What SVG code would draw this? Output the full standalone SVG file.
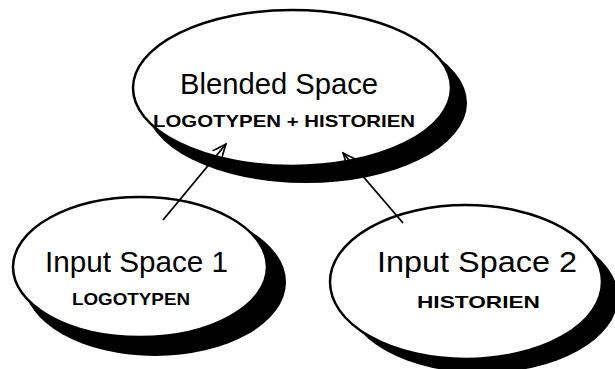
<svg xmlns="http://www.w3.org/2000/svg" width="615" height="369" viewBox="0 0 615 369">
<defs>
<style>
.shadow{fill:#000}
.body{fill:#fff;stroke:#000;stroke-width:2.5}
.title{font-family:"Liberation Sans","DejaVu Sans",sans-serif;font-size:29px;fill:#000}
.sub{font-family:"Liberation Sans","DejaVu Sans",sans-serif;font-size:17px;fill:#000;font-weight:bold}
.conn{stroke:#000;stroke-width:1.8;fill:none}
</style>
<marker id="arr" markerWidth="16" markerHeight="16" refX="14" refY="8" orient="auto" markerUnits="userSpaceOnUse">
<path d="M0,2 L14,8 L0,14 M3,3.5 L14,8 M3,12.5 L14,8" fill="none" stroke="#000" stroke-width="1.5"/>
</marker>
</defs>
<rect width="615" height="369" fill="#fff"/>
<g id="blended">
<ellipse class="shadow" cx="306" cy="103" rx="161" ry="80"/>
<ellipse class="body" cx="292" cy="88" rx="159" ry="78"/>
<text class="title" x="180" y="94" textLength="198" lengthAdjust="spacingAndGlyphs">Blended Space</text>
<text class="sub" x="153" y="127" textLength="262" lengthAdjust="spacingAndGlyphs">LOGOTYPEN + HISTORIEN</text>
</g>
<g id="input1">
<ellipse class="shadow" cx="155" cy="282" rx="131" ry="74"/>
<ellipse class="body" cx="140" cy="267" rx="127" ry="70"/>
<text class="title" x="45" y="272" textLength="183" lengthAdjust="spacingAndGlyphs">Input Space 1</text>
<text class="sub" x="72" y="305" textLength="118" lengthAdjust="spacingAndGlyphs">LOGOTYPEN</text>
</g>
<g id="input2">
<ellipse class="shadow" cx="482" cy="297" rx="136" ry="76"/>
<ellipse class="body" cx="466" cy="282" rx="136" ry="77"/>
<text class="title" x="377" y="272" textLength="200" lengthAdjust="spacingAndGlyphs">Input Space 2</text>
<text class="sub" x="417" y="308" textLength="123" lengthAdjust="spacingAndGlyphs">HISTORIEN</text>
</g>
<g id="connectors">
<line class="conn" x1="163" y1="220" x2="226" y2="144" marker-end="url(#arr)"/>
<line class="conn" x1="403" y1="223" x2="343" y2="153" marker-end="url(#arr)"/>
</g>
</svg>
